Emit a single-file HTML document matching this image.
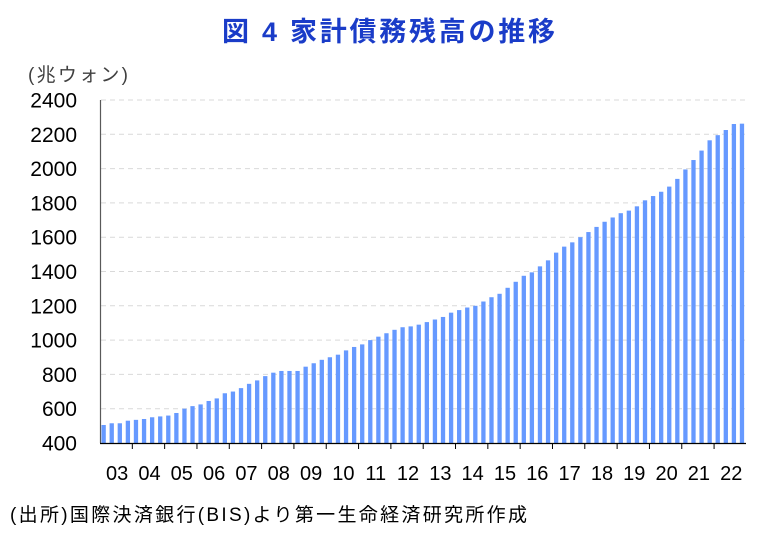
<!DOCTYPE html>
<html><head><meta charset="utf-8"><style>
html,body{margin:0;padding:0;background:#fff;}
</style></head><body>
<svg width="782" height="545" xmlns="http://www.w3.org/2000/svg" font-family="Liberation Sans, Noto Sans CJK JP, sans-serif">
<text x="222" y="41" font-size="27" font-weight="bold" fill="#1a3cc8" textLength="333" lengthAdjust="spacing" font-family="Liberation Sans, Noto Sans CJK JP, sans-serif">図 4  家計債務残高の推移</text>
<text x="28" y="81" font-size="19" fill="#404040" textLength="100" lengthAdjust="spacing">(兆ウォン)</text>
<g id="grid" stroke="#d9d9d9" stroke-dasharray="5,4" stroke-width="1"></g>
<g id="bars" fill="#6699ff"></g>
<g id="ylab" font-size="21" fill="#000" text-anchor="end"></g>
<g id="xlab" font-size="20" fill="#000" text-anchor="middle"></g>
<line x1="100.5" y1="100" x2="100.5" y2="443" stroke="#595959" stroke-width="1.2"/>
<line x1="100" y1="443.5" x2="746" y2="443.5" stroke="#000" stroke-width="1.2"/>
<g id="ticks" stroke="#000" stroke-width="1"></g>
<text x="10" y="521" font-size="19" fill="#000" textLength="517" lengthAdjust="spacing">(出所)国際決済銀行(BIS)より第一生命経済研究所作成</text>
</svg>
<script>
const ns="http://www.w3.org/2000/svg";
function el(p,t,a,txt){const e=document.createElementNS(ns,t);for(const k in a)e.setAttribute(k,a[k]);if(txt!==undefined)e.textContent=txt;document.getElementById(p).appendChild(e);}
const y=v=>443-(v-400)*343/2000;
for(let v=400;v<=2400;v+=200){
 if(v>400) el('grid','line',{x1:101,x2:746,y1:y(v),y2:y(v)});
 el('ylab','text',{x:77,y:y(v)+7.5},v);
}
const d=[505,515,515,530,535,540,550,555,560,575,600,615,625,645,660,690,700,720,745,765,790,810,820,820,820,845,865,885,900,915,940,960,975,1000,1020,1040,1060,1075,1080,1090,1105,1120,1135,1160,1175,1190,1200,1225,1250,1270,1305,1340,1375,1395,1430,1465,1510,1545,1570,1600,1630,1660,1690,1715,1740,1755,1780,1815,1840,1865,1895,1940,1995,2050,2105,2165,2195,2225,2260,2262];
const step=8.08;
d.forEach((v,i)=>{const x=101.5+i*step;el('bars','rect',{x:x,y:y(v),width:4.3,height:443-y(v)});});
for(let k=0;k<20;k++){
 const cx=100+(k*4+2)*step;
 el('xlab','text',{x:cx+1,y:480},String(k+3).padStart(2,'0'));
 if(k>0) el('ticks','line',{x1:100+k*4*step,x2:100+k*4*step,y1:443,y2:449});
}
</script>
</body></html>
